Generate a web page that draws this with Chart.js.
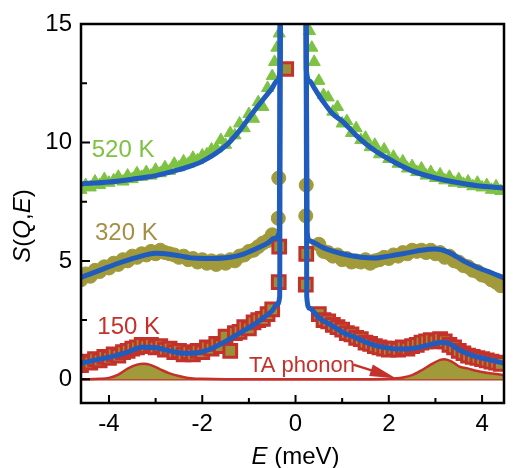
<!DOCTYPE html>
<html>
<head>
<meta charset="utf-8">
<script src="https://cdn.jsdelivr.net/npm/chart.js@4.4.1/dist/chart.umd.min.js"></script>
<style>
  html, body { margin: 0; padding: 0; background: #fff; }
</style>
</head>
<body>
<canvas id="sqeChart" width="516" height="468"></canvas>
<script>
// Energy transfer (meV) of the measured points
const energy = [
  -4.6, -4.5, -4.4, -4.3, -4.2, -4.1, -4.0, -3.9, -3.8, -3.7, -3.6, -3.5, -3.4, -3.3,
  -3.2, -3.1, -3.0, -2.9, -2.8, -2.7, -2.6, -2.5, -2.4, -2.3, -2.2, -2.1, -2.0, -1.9,
  -1.8, -1.7, -1.6, -1.5, -1.4, -1.3, -1.2, -1.1, -1.0, -0.9, -0.8, -0.7, -0.6, -0.5,
  0.5, 0.6, 0.7, 0.8, 0.9, 1.0, 1.1, 1.2, 1.3, 1.4, 1.5, 1.6, 1.7, 1.8, 1.9, 2.0,
  2.1, 2.2, 2.3, 2.4, 2.5, 2.6, 2.7, 2.8, 2.9, 3.0, 3.1, 3.2, 3.3, 3.4, 3.5, 3.6,
  3.7, 3.8, 3.9, 4.0, 4.1, 4.2, 4.3, 4.4
];

// S(Q,E) at 520 K (already offset)
const s520 = [
  8.0, 8.2, 8.1, 8.35, 8.2, 8.45, 8.3, 8.4, 8.55, 8.35, 8.6, 8.45, 8.7, 8.55,
  8.75, 8.6, 8.85, 8.7, 8.95, 8.8, 9.1, 8.95, 9.2, 9.1, 9.35, 9.25, 9.45, 9.5,
  9.7, 9.75, 10.1, 9.9, 10.4, 10.3, 10.8, 10.6, 11.2, 11.0, 11.7, 11.5, 12.3, 12.8,
  12.6, 12.0, 11.9, 11.3, 11.5, 10.8, 10.9, 10.4, 10.6, 10.1, 10.2, 9.8, 9.9, 9.5, 9.7, 9.3,
  9.4, 9.1, 9.2, 8.9, 9.0, 8.75, 8.9, 8.6, 8.75, 8.5, 8.65, 8.4, 8.55, 8.3, 8.45, 8.25,
  8.35, 8.15, 8.3, 8.1, 8.2, 8.0, 8.15, 7.95
];

// S(Q,E) at 320 K
const s320 = [
  4.2, 4.45, 4.35, 4.6, 4.55, 4.75, 4.7, 4.9, 4.85, 5.05, 5.0, 5.2, 5.15, 5.3,
  5.25, 5.4, 5.3, 5.45, 5.35, 5.3, 5.25, 5.15, 5.2, 5.05, 5.1, 4.95, 5.05, 4.9,
  5.0, 4.85, 5.0, 4.9, 5.05, 5.0, 5.2, 5.25, 5.4, 5.45, 5.6, 5.75, 5.85, 6.1,
  5.7, 5.4, 5.35, 5.2, 5.25, 5.05, 5.1, 4.95, 5.0, 4.95, 5.05, 4.9, 5.0, 5.05, 5.15, 5.1,
  5.25, 5.2, 5.35, 5.3, 5.45, 5.4, 5.45, 5.35, 5.45, 5.3, 5.35, 5.15, 5.2, 5.0, 4.95, 4.8,
  4.75, 4.6, 4.55, 4.4, 4.35, 4.2, 4.1, 3.95
];

// S(Q,E) at 150 K
const s150 = [
  0.6, 0.75, 0.7, 0.85, 0.8, 0.95, 0.9, 1.05, 1.0, 1.15, 1.2, 1.3, 1.35, 1.45,
  1.4, 1.45, 1.35, 1.4, 1.25, 1.3, 1.15, 1.2, 1.05, 1.15, 1.05, 1.2, 1.15, 1.35,
  1.3, 1.5, 1.4, 1.8, 1.2, 1.95, 2.0, 2.2, 2.15, 2.4, 2.5, 2.55, 2.75, 2.95,
  2.75, 2.5, 2.45, 2.3, 2.2, 2.1, 1.95, 1.9, 1.75, 1.7, 1.55, 1.5, 1.4, 1.35, 1.3, 1.25,
  1.3, 1.25, 1.35, 1.3, 1.4, 1.45, 1.55, 1.6, 1.65, 1.6, 1.7, 1.6, 1.45, 1.35, 1.2, 1.1,
  1.0, 0.95, 0.9, 0.85, 0.8, 0.75, 0.7, 0.65
];

// points next to the elastic line
const nearE520 = [-0.45, -0.4, -0.35, 0.3, 0.35, 0.4];
const near520 = [13.4, 14.0, 14.6, 14.7, 14.0, 13.4];
const nearE320 = [-0.37, -0.36, 0.22, 0.23];
const near320 = [6.8, 8.5, 6.9, 8.2];
const nearE150 = [-0.36, -0.35, -0.2, 0.22, 0.23];
const near150 = [4.1, 5.6, 13.1, 4.0, 5.3];

// fitted curves
const fitE520 = [-4.6, -4.0, -3.5, -3.0, -2.5, -2.0, -1.5, -1.2, -0.9, -0.7, -0.5, -0.4, -0.33, -0.325,
  0.225, 0.23, 0.3, 0.4, 0.6, 0.8, 1.0, 1.3, 1.6, 2.0, 2.5, 3.0, 3.5, 4.0, 4.47];
const fit520 = [8.25, 8.33, 8.45, 8.6, 8.85, 9.2, 9.85, 10.5, 11.3, 11.8, 12.3, 12.6, 13.1, 16,
  16, 13.1, 12.6, 12.3, 11.7, 11.2, 10.9, 10.3, 9.8, 9.3, 8.8, 8.5, 8.3, 8.15, 8.08];

const fitE320 = [-4.6, -4.2, -3.8, -3.4, -3.0, -2.6, -2.2, -1.8, -1.4, -1.1, -0.8, -0.6, -0.45, -0.35, -0.325,
  0.225, 0.25, 0.3, 0.6, 1.0, 1.4, 1.7, 2.0, 2.3, 2.7, 3.0, 3.3, 3.6, 3.9, 4.2, 4.47];
const fit320 = [4.3, 4.6, 4.9, 5.15, 5.32, 5.25, 5.12, 5.1, 5.15, 5.3, 5.55, 5.75, 5.95, 6.2, 16,
  16, 6.2, 5.85, 5.55, 5.3, 5.15, 5.12, 5.2, 5.3, 5.45, 5.5, 5.35, 5.0, 4.72, 4.5, 4.28];

const fitE150 = [-4.6, -4.2, -3.9, -3.6, -3.3, -3.0, -2.7, -2.4, -2.1, -1.8, -1.5, -1.2, -0.9, -0.7, -0.5, -0.4, -0.34, -0.325,
  0.225, 0.24, 0.3, 0.5, 0.8, 1.0, 1.3, 1.6, 1.9, 2.2, 2.5, 2.8, 3.1, 3.3, 3.5, 3.8, 4.1, 4.47];
const fit150 = [0.68, 0.85, 0.98, 1.15, 1.35, 1.33, 1.2, 1.1, 1.12, 1.3, 1.6, 1.95, 2.3, 2.58, 2.9, 3.15, 3.5, 16,
  16, 3.5, 3.0, 2.6, 2.25, 2.0, 1.75, 1.5, 1.35, 1.28, 1.3, 1.42, 1.55, 1.5, 1.25, 1.0, 0.85, 0.68];

// TA phonon contribution
const phononE = [-4.6, -4.2, -4.0, -3.8, -3.6, -3.4, -3.25, -3.1, -2.9, -2.7, -2.5, -2.3, -2.0, -1.5,
  1.5, 2.0, 2.3, 2.5, 2.7, 2.9, 3.1, 3.2, 3.35, 3.5, 3.7, 3.9, 4.1, 4.3, 4.47];
const phonon = [0, 0.02, 0.06, 0.2, 0.45, 0.62, 0.66, 0.6, 0.42, 0.25, 0.14, 0.06, 0.02, 0,
  0, 0.02, 0.08, 0.18, 0.38, 0.62, 0.82, 0.85, 0.75, 0.55, 0.45, 0.35, 0.28, 0.22, 0.18];
const baseE = [-4.6, 4.47];
const base = [0, 0];

// axis ticks
const xTicks = [-4, -2, 0, 2, 4];
const xMinor = [-3, -1, 1, 3];
const yTicks = [0, 5, 10, 15];
const yMinor = [2.5, 7.5, 12.5];

// Colors
const blue = '#1f5cbd';
const green = '#7dc242';
const olive = '#a19a3b';
const red = '#c4312b';
const FONT = '"Liberation Sans", Arial, sans-serif';

const pts = (xs, ys) => xs.map((x, i) => ({ x: x, y: ys[i] }));

function drawRich(ctx, parts, x, y) {
  const widths = parts.map(p => {
    ctx.font = (p[1] ? 'italic ' : '') + '24px ' + FONT;
    return ctx.measureText(p[0]).width;
  });
  let cx = x - widths.reduce((s, w) => s + w, 0) / 2;
  parts.forEach((p, i) => {
    ctx.font = (p[1] ? 'italic ' : '') + '24px ' + FONT;
    ctx.textAlign = 'left';
    ctx.fillText(p[0], cx, y);
    cx += widths[i];
  });
}

const decorations = {
  id: 'decorations',
  afterDraw(chart) {
    const ctx = chart.ctx;
    const a = chart.chartArea;
    const xs = chart.scales.x;
    const ys = chart.scales.y;
    ctx.save();

    // frame
    ctx.strokeStyle = '#000';
    ctx.lineWidth = 2.5;
    ctx.strokeRect(a.left, a.top, a.right - a.left, a.bottom - a.top);

    // inward ticks
    ctx.lineWidth = 2;
    ctx.beginPath();
    xTicks.concat(xMinor).forEach(v => {
      const px = xs.getPixelForValue(v);
      const len = xTicks.includes(v) ? 8 : 5;
      ctx.moveTo(px, a.bottom);
      ctx.lineTo(px, a.bottom - len);
    });
    yTicks.concat(yMinor).forEach(v => {
      const py = ys.getPixelForValue(v);
      const len = yTicks.includes(v) ? 9 : 6;
      ctx.moveTo(a.left, py);
      ctx.lineTo(a.left + len, py);
    });
    ctx.stroke();

    // temperature labels
    ctx.textBaseline = 'middle';
    ctx.textAlign = 'left';
    ctx.font = '24px ' + FONT;
    ctx.fillStyle = green;
    ctx.fillText('520 K', xs.getPixelForValue(-4.37), ys.getPixelForValue(9.66));
    ctx.fillStyle = '#a38f45';
    ctx.fillText('320 K', xs.getPixelForValue(-4.3), ys.getPixelForValue(6.14));
    ctx.fillStyle = red;
    ctx.fillText('150 K', xs.getPixelForValue(-4.25), ys.getPixelForValue(2.2));

    // TA phonon label and arrow
    ctx.font = '22px ' + FONT;
    ctx.fillText('TA phonon', xs.getPixelForValue(-1.0), ys.getPixelForValue(0.55));
    const x0 = xs.getPixelForValue(1.24), y0 = ys.getPixelForValue(0.62);
    const x1 = xs.getPixelForValue(2.15), y1 = ys.getPixelForValue(0.05);
    const ang = Math.atan2(y1 - y0, x1 - x0);
    ctx.strokeStyle = red;
    ctx.lineWidth = 2.5;
    ctx.beginPath();
    ctx.moveTo(x0, y0);
    ctx.lineTo(x1 - 18 * Math.cos(ang), y1 - 18 * Math.sin(ang));
    ctx.stroke();
    ctx.beginPath();
    ctx.moveTo(x1, y1);
    ctx.lineTo(x1 - 26 * Math.cos(ang) + 6 * Math.sin(ang), y1 - 26 * Math.sin(ang) - 6 * Math.cos(ang));
    ctx.lineTo(x1 - 26 * Math.cos(ang) - 6 * Math.sin(ang), y1 - 26 * Math.sin(ang) + 6 * Math.cos(ang));
    ctx.closePath();
    ctx.fill();

    // axis titles
    ctx.fillStyle = '#000';
    ctx.textBaseline = 'alphabetic';
    drawRich(ctx, [['E', true], [' (meV)', false]], xs.getPixelForValue(0), 464);
    ctx.translate(23, 226);
    ctx.rotate(-Math.PI / 2);
    ctx.textBaseline = 'middle';
    drawRich(ctx, [['S', true], ['(', false], ['Q', true], [',', false], ['E', true], [')', false]], 0, 0);

    ctx.restore();
  }
};

const scatterSet = (data, style, fill, border, radius, borderWidth, order) => ({
  data: data,
  showLine: false,
  pointStyle: style,
  pointRadius: radius,
  pointBackgroundColor: fill,
  pointBorderColor: border,
  pointBorderWidth: borderWidth,
  order: order
});

const lineSet = (data, color, width, order, extra) => Object.assign({
  data: data,
  borderColor: color,
  borderWidth: width,
  pointRadius: 0,
  cubicInterpolationMode: 'monotone',
  fill: false,
  order: order
}, extra || {});

new Chart(document.getElementById('sqeChart').getContext('2d'), {
  type: 'line',
  data: {
    datasets: [
      lineSet(pts(baseE, base), red, 2.5, 6),
      lineSet(pts(phononE, phonon), red, 2.5, 5, { fill: 'origin', backgroundColor: olive }),
      scatterSet(pts(energy, s520).concat(pts(nearE520, near520)), 'triangle', green, green, 7, 1, 4),
      scatterSet(pts(energy, s320).concat(pts(nearE320, near320)), 'circle', olive, olive, 7, 1, 3),
      scatterSet(pts(energy, s150).concat(pts(nearE150, near150)), 'rect', '#9c8f38', red, 9, 3, 2),
      lineSet(pts(fitE520, fit520), blue, 5, 0),
      lineSet(pts(fitE320, fit320), blue, 5, 0),
      lineSet(pts(fitE150, fit150), blue, 5, 0)
    ]
  },
  options: {
    responsive: false,
    animation: false,
    layout: { padding: { top: 24, right: 3, left: 0, bottom: 0 } },
    plugins: {
      legend: { display: false },
      tooltip: { enabled: false },
      title: { display: false }
    },
    scales: {
      x: {
        type: 'linear',
        min: -4.6,
        max: 4.47,
        border: { display: false },
        grid: { display: false, drawTicks: false },
        ticks: {
          color: '#000',
          font: { family: FONT, size: 24 },
          padding: 7,
          callback: v => String(v)
        },
        afterBuildTicks: s => { s.ticks = xTicks.map(v => ({ value: v })); },
        afterFit: s => { s.height = 65; }
      },
      y: {
        min: -1,
        max: 15,
        border: { display: false },
        grid: { display: false, drawTicks: false },
        ticks: {
          color: '#000',
          font: { family: FONT, size: 24 },
          padding: 9,
          callback: v => String(v)
        },
        afterBuildTicks: s => { s.ticks = yTicks.map(v => ({ value: v })); },
        afterFit: s => { s.width = 81; }
      }
    }
  },
  plugins: [decorations]
});
</script>
</body>
</html>
